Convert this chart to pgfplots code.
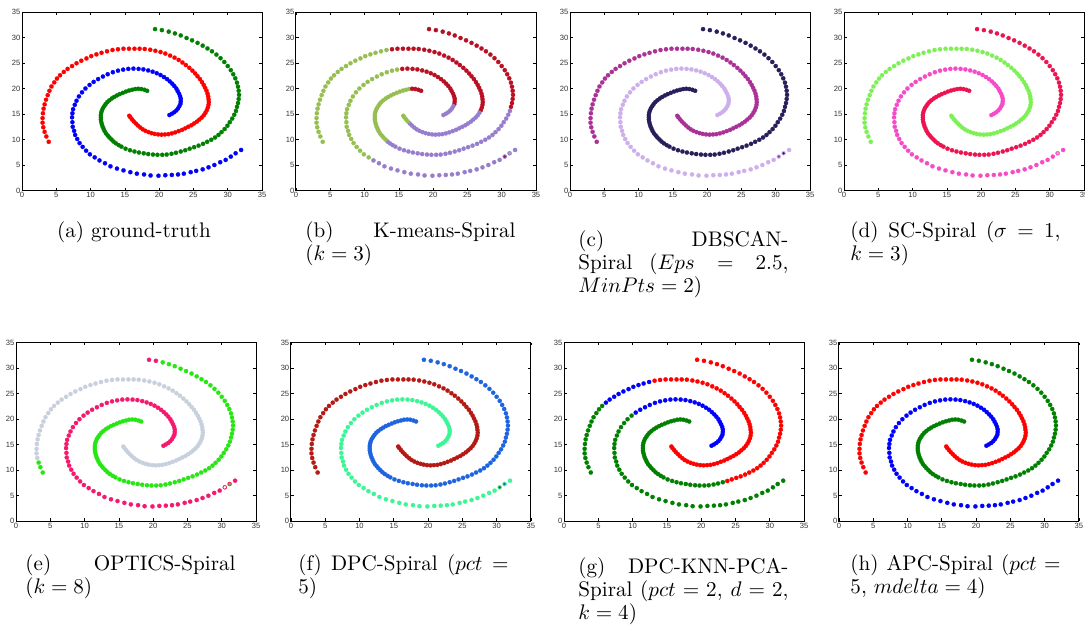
\documentclass[border=0pt]{standalone}
\usepackage{fontspec}
\usepackage{pgfplots}
\pgfplotsset{compat=1.18}
\usepackage{pgfplotstable}
\newfontfamily\tickfont{Liberation Sans}

\definecolor{aR}{RGB}{255,0,0}
\definecolor{aB}{RGB}{0,0,255}
\definecolor{aG}{RGB}{0,128,0}
\definecolor{bR}{RGB}{185,15,35}
\definecolor{bG}{RGB}{150,190,80}
\definecolor{bP}{RGB}{150,125,205}
\definecolor{cN}{RGB}{40,30,90}
\definecolor{cM}{RGB}{170,50,150}
\definecolor{cL}{RGB}{205,175,235}
\definecolor{dC}{RGB}{235,20,80}
\definecolor{dG}{RGB}{125,240,85}
\definecolor{dP}{RGB}{245,75,200}
\definecolor{eS}{RGB}{200,208,222}
\definecolor{eP}{RGB}{245,25,110}
\definecolor{eG}{RGB}{40,230,20}
\definecolor{fR}{RGB}{180,25,20}
\definecolor{fA}{RGB}{60,245,150}
\definecolor{fB}{RGB}{30,100,225}

% outer spiral (red in ground truth), outer end -> inner end
\pgfplotstableread{
x y
3.90 9.55
3.55 10.60
3.30 11.50
3.10 12.40
3.00 13.30
3.00 14.20
3.05 15.15
3.15 16.05
3.30 16.90
3.50 17.80
3.75 18.70
4.00 19.55
4.30 20.40
4.70 21.20
5.10 21.95
5.55 22.60
6.10 23.25
6.65 23.85
7.30 24.40
7.95 24.95
8.65 25.45
9.40 25.90
10.10 26.35
10.85 26.70
11.60 27.00
12.40 27.30
13.20 27.55
14.00 27.70
14.80 27.80
15.60 27.80
16.40 27.80
17.15 27.80
17.90 27.75
18.70 27.60
19.45 27.40
20.20 27.15
20.90 26.85
21.60 26.45
22.25 26.05
22.85 25.60
23.40 25.10
23.90 24.60
24.40 24.05
24.85 23.50
25.25 22.95
25.60 22.40
25.95 21.85
26.25 21.25
26.50 20.70
26.70 20.15
26.90 19.60
27.05 19.00
27.15 18.45
27.20 17.90
27.25 17.35
27.20 16.80
27.10 16.25
26.95 15.75
26.75 15.25
26.50 14.75
26.20 14.30
25.85 13.90
25.50 13.50
25.10 13.15
24.70 12.80
24.25 12.50
23.80 12.20
23.35 11.90
22.85 11.65
22.35 11.40
21.85 11.20
21.35 11.05
20.85 11.00
20.35 10.95
19.85 11.00
19.35 11.10
18.90 11.25
18.45 11.45
18.00 11.70
17.60 12.00
17.25 12.35
16.90 12.75
16.60 13.15
16.30 13.55
16.05 13.95
15.80 14.35
15.65 14.65
}\tabR

% blue spiral in ground truth
\pgfplotstableread{
x y
31.95 7.95
31.15 7.30
30.45 6.65
29.70 6.00
28.90 5.55
28.05 5.00
27.20 4.55
26.35 4.15
25.40 3.85
24.60 3.60
23.60 3.30
22.75 3.15
21.85 3.05
20.90 3.00
19.90 2.90
18.75 2.95
17.80 3.15
16.75 3.30
15.80 3.60
14.80 3.95
13.85 4.30
12.90 4.75
12.10 5.35
11.30 5.90
10.60 6.50
9.90 7.10
9.35 7.80
8.85 8.55
8.40 9.30
8.05 10.10
7.75 10.90
7.60 11.70
7.40 12.50
7.35 13.40
7.30 14.35
7.35 15.15
7.45 15.95
7.70 16.80
7.95 17.60
8.30 18.45
8.75 19.25
9.25 20.00
9.85 20.70
10.45 21.30
11.10 21.85
11.80 22.35
12.50 22.80
13.25 23.20
14.00 23.50
14.75 23.70
15.50 23.85
16.25 23.90
17.00 23.85
17.70 23.75
18.40 23.55
19.05 23.30
19.65 23.00
20.20 22.65
20.70 22.25
21.15 21.85
21.55 21.40
21.90 20.95
22.20 20.50
22.50 20.00
22.70 19.50
22.90 19.00
23.05 18.50
23.15 18.00
23.15 17.50
23.10 17.00
22.95 16.55
22.75 16.10
22.50 15.70
22.20 15.35
21.85 15.05
21.50 14.80
}\tabB

% green spiral in ground truth
\pgfplotstableread{
x y
19.40 31.65
20.40 31.45
21.40 31.15
22.30 30.80
23.15 30.40
24.00 29.90
24.80 29.45
25.60 28.95
26.35 28.40
27.05 27.85
27.70 27.30
28.35 26.65
28.95 25.95
29.50 25.20
30.00 24.40
30.45 23.60
30.80 22.80
31.10 22.00
31.35 21.15
31.50 20.35
31.60 19.55
31.65 18.75
31.60 17.95
31.50 17.15
31.35 16.40
31.20 15.60
30.95 14.85
30.65 14.10
30.30 13.40
29.95 12.70
29.55 12.05
29.10 11.45
28.65 10.90
28.15 10.40
27.60 9.95
27.00 9.55
26.40 9.15
25.75 8.80
25.10 8.50
24.45 8.20
23.80 7.90
23.15 7.65
22.45 7.40
21.80 7.20
21.10 7.05
20.45 7.00
19.75 7.00
19.10 7.05
18.40 7.15
17.75 7.30
17.05 7.45
16.40 7.65
15.75 7.90
15.10 8.20
14.50 8.60
14.10 8.90
13.70 9.25
13.35 9.60
13.05 10.00
12.75 10.40
12.50 10.80
12.25 11.20
12.05 11.65
11.90 12.10
11.75 12.55
11.65 13.00
11.55 13.45
11.50 13.90
11.50 14.35
11.50 14.80
11.55 15.25
11.65 15.70
11.80 16.15
12.00 16.55
12.20 16.95
12.45 17.35
12.75 17.70
13.10 18.05
13.45 18.35
13.85 18.65
14.25 18.90
14.70 19.15
15.15 19.40
15.60 19.60
16.05 19.75
16.50 19.90
16.95 19.95
17.40 19.90
17.85 19.75
18.25 19.55
}\tabG

\def\ms{1.0pt}
\newcommand{\seg}[4]{\addplot[only marks, mark=*, mark size=\ms, color=#1, mark options={line width=0.1pt}, restrict expr to domain={\coordindex}{#3:#4}] table {#2};}
\newcommand{\sml}[3]{\addplot[only marks, mark=*, mark size=0.55pt, color=#1, mark options={line width=0.1pt}, restrict expr to domain={\coordindex}{#3:#3}] table {#2};}

\pgfplotsset{sp/.style={scale only axis, width=113.7pt, height=84.56pt, anchor=north west,
  xmin=0, xmax=35, ymin=0, ymax=35, xtick={0,5,...,35}, ytick={0,5,...,35},
  tick align=inside, major tick length=1.3pt, tick style={black, line width=0.3pt},
  axis line style={black, line width=0.45pt},
  tick label style={font=\tickfont\fontsize{3.6}{4}\selectfont, text=black!80},
  xticklabel style={inner sep=0.6pt}, yticklabel style={inner sep=0.6pt},
  /pgf/number format/assume math mode=true, clip=false}}

\begin{document}
\begin{tikzpicture}[every node/.append style={font=\fontsize{10}{11}\selectfont}]
\useasboundingbox (0pt,0pt) rectangle (513.96pt,295.59pt);
\def\cw{99.5pt}
% (a)
\begin{axis}[sp, at={(10.42pt,289.9pt)}]
\seg{aB}{\tabB}{0}{999}
\seg{aR}{\tabR}{0}{999}
\seg{aG}{\tabG}{0}{999}
\end{axis}
% (b)
\begin{axis}[sp, at={(140.2pt,289.9pt)}]
\seg{bP}{\tabB}{0}{23}
\seg{bG}{\tabB}{24}{49}
\seg{bR}{\tabB}{50}{69}
\seg{bP}{\tabB}{70}{999}
\seg{bG}{\tabR}{0}{26}
\seg{bR}{\tabR}{27}{57}
\seg{bP}{\tabR}{58}{82}
\seg{bG}{\tabR}{83}{999}
\seg{bR}{\tabG}{0}{24}
\seg{bP}{\tabG}{25}{57}
\seg{bG}{\tabG}{58}{85}
\seg{bR}{\tabG}{86}{999}
\sml{bG}{\tabB}{1}
\sml{bR}{\tabB}{2}
\end{axis}
% (c)
\begin{axis}[sp, at={(270.0pt,289.9pt)}]
\seg{cL}{\tabB}{0}{999}
\seg{cM}{\tabR}{0}{999}
\seg{cN}{\tabG}{0}{999}
\sml{cN}{\tabB}{1}
\sml{cM}{\tabB}{2}
\end{axis}
% (d)
\begin{axis}[sp, at={(399.8pt,289.9pt)}]
\seg{dP}{\tabB}{0}{999}
\seg{dG}{\tabR}{0}{999}
\seg{dC}{\tabG}{0}{999}
\sml{dG}{\tabB}{1}
\end{axis}
% (e)
\begin{axis}[sp, at={(7.58pt,133.25pt)}]
\seg{eP}{\tabB}{0}{999}
\seg{eG}{\tabR}{0}{2}
\seg{eS}{\tabR}{3}{999}
\seg{eP}{\tabG}{0}{1}
\seg{eG}{\tabG}{2}{999}
\sml{eG}{\tabB}{1}
\sml{white}{\tabB}{2}
\end{axis}
% (f)
\begin{axis}[sp, at={(137.8pt,133.25pt)}]
\seg{fA}{\tabB}{0}{999}
\seg{fR}{\tabR}{0}{999}
\seg{fB}{\tabG}{0}{999}
\sml{fB}{\tabB}{1}
\sml{fR}{\tabB}{2}
\end{axis}
% (g)
\begin{axis}[sp, at={(267.2pt,133.25pt)}]
\seg{aG}{\tabB}{0}{42}
\seg{aB}{\tabB}{43}{999}
\seg{aG}{\tabR}{0}{15}
\seg{aB}{\tabR}{16}{25}
\seg{aR}{\tabR}{26}{999}
\seg{aR}{\tabG}{0}{40}
\seg{aG}{\tabG}{41}{999}
\end{axis}
% (h)
\begin{axis}[sp, at={(397.4pt,133.25pt)}]
\seg{aB}{\tabB}{0}{999}
\seg{aR}{\tabR}{0}{999}
\seg{aG}{\tabG}{0}{999}
\end{axis}
% captions
\node[anchor=north, inner sep=0] at (63.48pt,190.66pt) {(a) ground-truth};
\node[anchor=north west, inner sep=0, text width=\cw, align=justify] at (144.48pt,190.66pt)
  {\makebox[\cw][s]{(b) K-means-Spiral}\\($k=3$)};
\node[anchor=north west, inner sep=0, text width=\cw, align=justify] at (273.8pt,186.6pt)
  {\makebox[\cw][s]{(c) DBSCAN-}\\\makebox[\cw][s]{Spiral ($Eps = 2.5$,}\\$MinPts=2$)};
\node[anchor=north west, inner sep=0, text width=\cw, align=justify] at (402.65pt,190.66pt)
  {\makebox[\cw][s]{(d) SC-Spiral ($\sigma = 1$,}\\$k=3$)};
\node[anchor=north west, inner sep=0, text width=\cw, align=justify] at (11.84pt,33.16pt)
  {\makebox[\cw][s]{(e) OPTICS-Spiral}\\($k=8$)};
\node[anchor=north west, inner sep=0, text width=\cw, align=justify] at (141.16pt,33.16pt)
  {\makebox[\cw][s]{(f) DPC-Spiral ($pct =$}\\5)};
\node[anchor=north west, inner sep=0, text width=\cw, align=justify] at (273.8pt,31.74pt)
  {\makebox[\cw][s]{(g) DPC-KNN-PCA-}\\\makebox[\cw][s]{Spiral ($pct=2$, $d=2$,}\\$k=4$)};
\node[anchor=north west, inner sep=0, text width=\cw, align=justify] at (402.65pt,33.16pt)
  {\makebox[\cw][s]{(h) APC-Spiral ($pct =$}\\5, $mdelta=4$)};
\end{tikzpicture}
\end{document}
